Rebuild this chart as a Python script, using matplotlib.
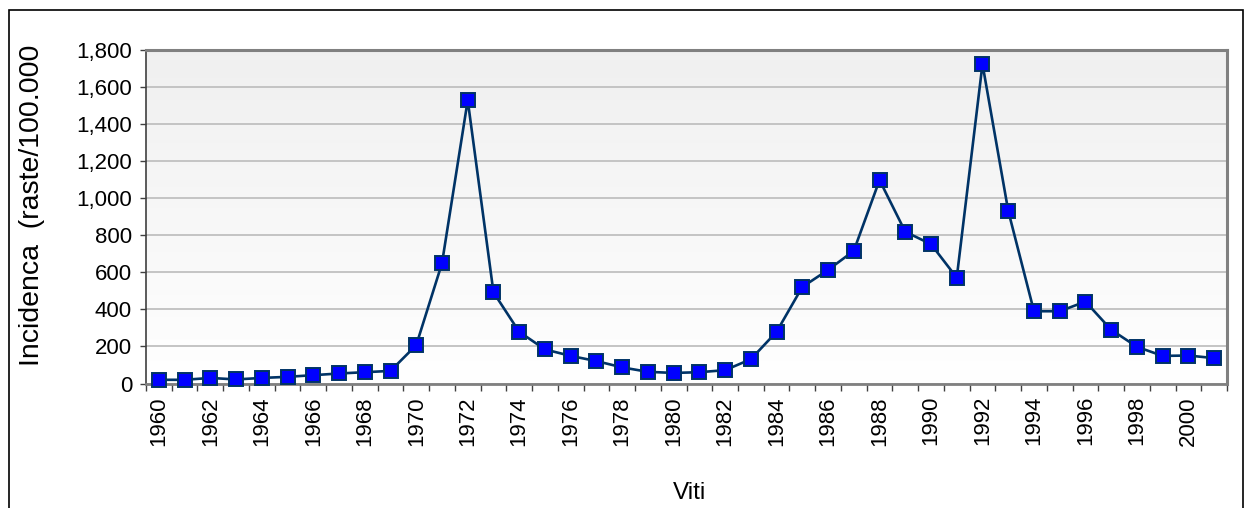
import numpy as np
import matplotlib
matplotlib.use("Agg")
import matplotlib.pyplot as plt
from matplotlib.patches import Rectangle
from matplotlib.ticker import FuncFormatter, FixedLocator

plt.rcParams['font.family'] = ['Liberation Sans', 'DejaVu Sans']

years = list(range(1960, 2002))
incidence = [20, 20, 30, 22, 30, 36, 45, 54, 61, 68,
             207, 649, 1529, 492, 279, 184, 149, 121, 87, 63,
             57, 61, 72, 131, 279, 521, 613, 716, 1098, 819,
             752, 571, 1724, 932, 390, 390, 442, 290, 198, 149,
             151, 137]
y_ticks = [0, 200, 400, 600, 800, 1000, 1200, 1400, 1600, 1800]
x_label = "Viti"
y_label = "Incidenca  (raste/100.000"

fig = plt.figure(figsize=(12.45, 5.08), dpi=100)
fig.patch.set_facecolor("white")

# outer chart frame (bottom edge runs past the canvas)
fig.patches.append(Rectangle((8.5 / 1245, -0.05), (1243 - 8.5) / 1245, 1.05 - 10.5 / 508,
                             transform=fig.transFigure, fill=False,
                             edgecolor="black", linewidth=1.2, zorder=0))

ax = fig.add_axes([146 / 1245, 1 - 383.5 / 508, (1227 - 146) / 1245, (383.5 - 50) / 508])

# vertical grey-to-white gradient behind the plot
grad = np.linspace(0.94, 1.0, 256).reshape(-1, 1)
ax.imshow(np.dstack([grad, grad, grad]), extent=[0, 1, 0, 1], transform=ax.transAxes,
          aspect="auto", origin="upper", zorder=0, interpolation="bicubic")

x = np.arange(len(years))
ax.plot(x, incidence, color="#003366", linewidth=1.9, marker="s", markersize=9.5,
        markerfacecolor="#0000ff", markeredgecolor="#003366", markeredgewidth=1.4,
        zorder=3, clip_on=False)

ax.set_xlim(-0.5, len(years) - 0.5)
ax.set_ylim(0, 1800)

ax.set_yticks(y_ticks)
ax.yaxis.set_major_formatter(FuncFormatter(lambda v, p: f"{int(v):,}"))
ax.grid(axis="y", color="#c0c0c0", linewidth=1.3, zorder=1)
ax.set_axisbelow(True)

label_pos = x[::2]
ax.xaxis.set_major_locator(FixedLocator(label_pos))
ax.set_xticklabels([str(years[i]) for i in label_pos], rotation=90)
ax.xaxis.set_minor_locator(FixedLocator(np.arange(-0.5, len(years), 1.0)))
ax.tick_params(axis="x", which="major", length=0, pad=9, labelsize=16)
ax.tick_params(axis="x", which="minor", length=5, width=1, color="#404040", direction="out")
ax.tick_params(axis="y", length=4, width=1, color="#404040", pad=6, labelsize=16)

for side in ("top", "right"):
    ax.spines[side].set_color("#808080")
    ax.spines[side].set_linewidth(2.2)
ax.spines["left"].set_color("#404040")
ax.spines["left"].set_linewidth(1.2)
ax.spines["bottom"].set_color("#808080")
ax.spines["bottom"].set_linewidth(2.0)

fig.text(690 / 1245, 1 - 493 / 508, x_label, ha="center", va="center", fontsize=17.5)
fig.text(32 / 1245, 1 - 205 / 508, y_label, ha="center", va="center", rotation=90, fontsize=20.5)

fig.savefig("out.png", dpi=100, facecolor="white")
